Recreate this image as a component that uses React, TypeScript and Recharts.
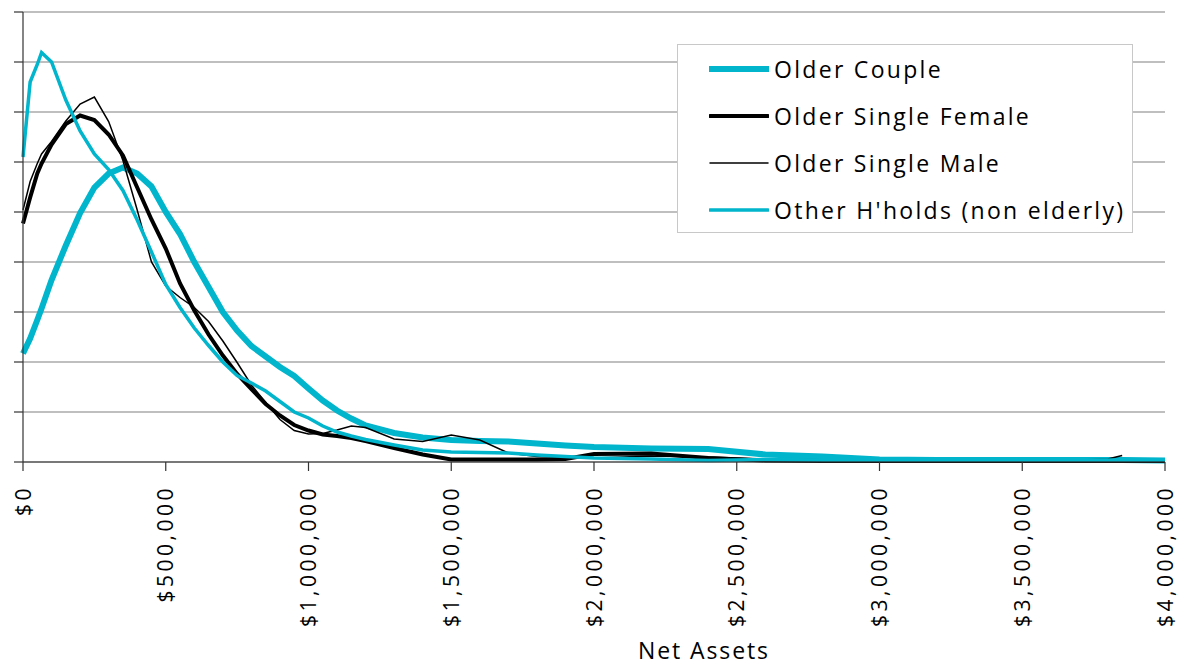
import React from "react";
import {
  LineChart,
  Line,
  XAxis,
  YAxis,
  CartesianGrid,
  Legend,
  Label,
} from "recharts";

// net assets, in thousands of dollars
const netAssetsK = [
  0, 25, 50, 65, 100, 150, 200, 250, 300, 350, 400, 450, 500, 550, 600, 650,
  700, 750, 800, 850, 900, 950, 1000, 1050, 1100, 1150, 1200, 1300, 1400, 1500,
  1600, 1700, 1800, 1900, 2000, 2200, 2400, 2600, 2800, 3000, 3200, 3400, 3600,
  3800, 3850, 4000,
];

const olderCouple = [
  2.17, 2.47, 2.84, 3.07, 3.64, 4.33, 4.98, 5.49, 5.77, 5.89, 5.77, 5.51, 5.0,
  4.56, 4.0, 3.5, 3.0, 2.63, 2.32, 2.11, 1.9, 1.72, 1.47, 1.23, 1.03, 0.87,
  0.73, 0.58, 0.49, 0.44, 0.42, 0.41, 0.37, 0.33, 0.3, 0.27, 0.26, 0.15, 0.11,
  0.05, 0.04, 0.04, 0.04, 0.04, 0.04, 0.03,
];

const olderSingleFemale = [
  4.77, 5.29, 5.77, 5.97, 6.35, 6.76, 6.93, 6.84, 6.55, 6.13, 5.49, 4.85, 4.27,
  3.57, 3.03, 2.55, 2.13, 1.76, 1.46, 1.16, 0.93, 0.74, 0.63, 0.55, 0.52, 0.48,
  0.42, 0.28, 0.15, 0.05, 0.05, 0.05, 0.05, 0.06, 0.16, 0.17, 0.08, 0.03, 0.02,
  0.02, 0.02, 0.02, 0.02, 0.02, 0.02, 0.02,
];

const olderSingleMale = [
  5.04, 5.61, 5.97, 6.16, 6.41, 6.82, 7.16, 7.3, 6.81, 6.03, 5.04, 4.0, 3.52,
  3.29, 3.09, 2.81, 2.42, 1.99, 1.54, 1.19, 0.85, 0.63, 0.56, 0.57, 0.64, 0.72,
  0.69, 0.46, 0.41, 0.54, 0.44, 0.18, 0.11, 0.1, 0.08, 0.12, 0.1, 0.06, 0.03,
  0.02, 0.02, 0.02, 0.02, 0.06, 0.13, null,
];

const otherHouseholds = [
  6.1, 7.6, 7.95, 8.19, 8.0, 7.24, 6.62, 6.16, 5.85, 5.43, 4.84, 4.2, 3.55,
  3.09, 2.68, 2.33, 2.0, 1.73, 1.58, 1.42, 1.21, 1.0, 0.88, 0.72, 0.6, 0.52,
  0.45, 0.34, 0.24, 0.2, 0.19, 0.18, 0.14, 0.11, 0.08, 0.06, 0.03, 0.05, 0.04,
  0.04, 0.04, 0.04, 0.04, 0.04, 0.04, 0.04,
];

const xTicks = [0, 500000, 1000000, 1500000, 2000000, 2500000, 3000000, 3500000, 4000000];
const yTicks = [0, 1, 2, 3, 4, 5, 6, 7, 8, 9];

const TEAL = "#00b5cc";
const FONT = "'Open Sans', 'Liberation Sans', sans-serif";

const series = [
  { key: "couple", name: "Older Couple", color: TEAL, width: 6 },
  { key: "female", name: "Older Single Female", color: "#000", width: 4 },
  { key: "male", name: "Older Single Male", color: "#000", width: 1.5 },
  { key: "other", name: "Other H'holds (non elderly)", color: TEAL, width: 3.5 },
];

const data = netAssetsK.map((k, i) => ({
  assets: k * 1000,
  couple: olderCouple[i],
  female: olderSingleFemale[i],
  male: olderSingleMale[i],
  other: otherHouseholds[i],
}));

const money = (v: number) => "$" + v.toLocaleString("en-US");

function XTick(props: any) {
  const { x, y, payload } = props;
  return (
    <text
      transform={`translate(${x},${y}) rotate(-90)`}
      textAnchor="end"
      dy="0.36em"
      fontSize={21}
      letterSpacing={3.5}
      fontFamily={FONT}
      fill="#000"
    >
      {money(payload.value)}
    </text>
  );
}

// y axis has tick marks but no labels in the original
const NoLabel = () => <g />;

function AxisTitle(props: any) {
  const vb = props.viewBox;
  return (
    <text
      x={vb.x + vb.width / 2 + 110}
      y={vb.y + vb.height - 7}
      textAnchor="middle"
      fontSize={23}
      letterSpacing={1.9}
      fontFamily={FONT}
      fill="#000"
    >
      Net Assets
    </text>
  );
}

function LegendBox() {
  return (
    <div
      style={{
        boxSizing: "border-box",
        width: 456,
        height: 189,
        background: "#fff",
        border: "1px solid #c8c8c8",
        fontFamily: FONT,
        fontSize: 23,
        letterSpacing: 2.3,
        color: "#000",
      }}
    >
      {series.map((s) => (
        <div
          key={s.key}
          style={{ height: 47, display: "flex", alignItems: "center", paddingLeft: 31 }}
        >
          <svg width={60} height={10} style={{ flex: "none" }}>
            <line
              x1={1}
              y1={5}
              x2={59}
              y2={5}
              stroke={s.color}
              strokeWidth={s.width}
              strokeLinecap="round"
            />
          </svg>
          <span style={{ marginLeft: 5, whiteSpace: "nowrap" }}>{s.name}</span>
        </div>
      ))}
    </div>
  );
}

export default function App() {
  return (
    <div style={{ position: "absolute", left: 0, top: 0, background: "#fff" }}>
      <LineChart
        width={1183}
        height={666}
        data={data}
        margin={{ top: 12, right: 18, bottom: 0, left: 0 }}
      >
        <CartesianGrid vertical={false} stroke="#bfbfbf" strokeWidth={2} />
        <XAxis
          dataKey="assets"
          type="number"
          domain={[0, 4000000]}
          ticks={xTicks}
          interval={0}
          height={204}
          tickSize={9}
          tickMargin={14}
          tick={<XTick />}
          axisLine={{ stroke: "#333", strokeWidth: 1.2 }}
          tickLine={{ stroke: "#333", strokeWidth: 1.2 }}
        >
          <Label content={<AxisTitle />} />
        </XAxis>
        <YAxis
          type="number"
          domain={[0, 9]}
          ticks={yTicks}
          interval={0}
          width={23}
          tickSize={9}
          tick={<NoLabel />}
          axisLine={{ stroke: "#333", strokeWidth: 1.2 }}
          tickLine={{ stroke: "#333", strokeWidth: 1.2 }}
        />
        <Legend
          layout="horizontal"
          verticalAlign="middle"
          align="center"
          wrapperStyle={{ left: 677, top: 44, width: 456, height: 189 }}
          content={() => <LegendBox />}
        />
        {series.map((s) => (
          <Line
            key={s.key}
            type="linear"
            dataKey={s.key}
            name={s.name}
            stroke={s.color}
            strokeWidth={s.width}
            dot={false}
            activeDot={false}
            connectNulls={false}
            isAnimationActive={false}
          />
        ))}
      </LineChart>
    </div>
  );
}
